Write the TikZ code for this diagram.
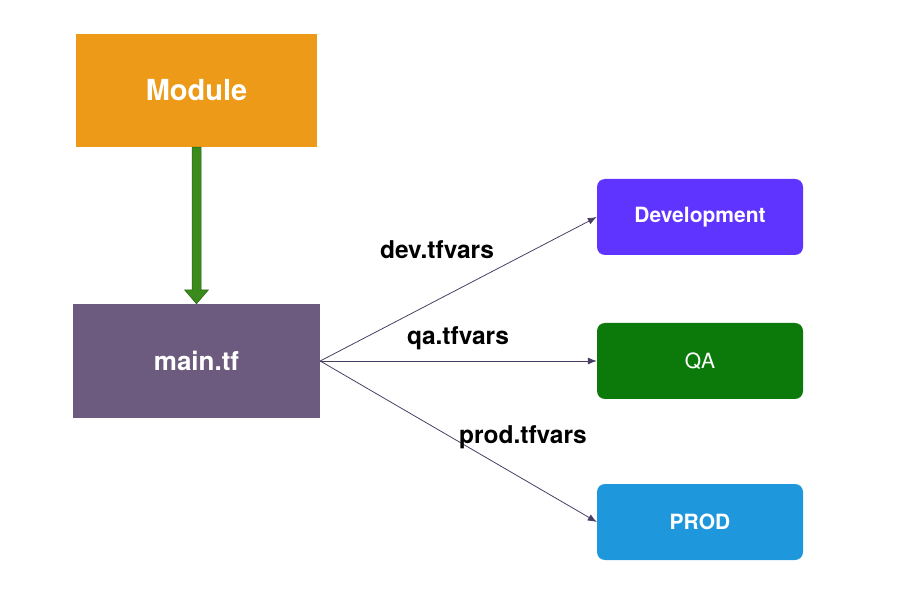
\documentclass[tikz,border=0pt]{standalone}
\usepackage{fontspec}
\setmainfont{TeX Gyre Heros}
\usetikzlibrary{arrows.meta,calc}
\definecolor{modorange}{HTML}{EC9A17}
\definecolor{mainpurple}{HTML}{6C5B7E}
\definecolor{devviolet}{HTML}{6034FF}
\definecolor{qagreen}{HTML}{0B7A0B}
\definecolor{prodblue}{HTML}{1E97DC}
\definecolor{arrowgreen}{HTML}{3A8A1C}
\definecolor{linecol}{HTML}{4A3F63}
\tikzset{
  sqbox/.style={draw=none, minimum width=#1, text=white},
  envbox/.style={rounded corners=8pt, minimum width=206pt, minimum height=76pt, text=white, font=\bfseries\fontsize{21}{24}\selectfont},
  conn/.style={draw=linecol, line width=0.8pt, -{Latex[length=9pt,width=7pt]}},
  lbl/.style={font=\bfseries\fontsize{24.5}{28}\selectfont, text=black}
}
\begin{document}
\begin{tikzpicture}[x=1pt,y=-1pt]
\useasboundingbox (0,0) rectangle (908,593);
\node[sqbox=241pt, minimum height=113pt, fill=modorange, font=\bfseries\fontsize{29}{32}\selectfont] (module) at (196.5,90.5) {Module};
\node[sqbox=247pt, minimum height=114pt, fill=mainpurple, font=\bfseries\fontsize{26}{30}\selectfont] (main) at (196.5,361) {main.tf};
\node[envbox, fill=devviolet] (dev) at (700,217) {Development};
\node[envbox, fill=qagreen, font=\fontsize{21}{24}\selectfont] (qa) at (700,361) {QA};
\node[envbox, fill=prodblue] (prod) at (700,522) {PROD};
% green arrow
\coordinate (atop) at (module.south);
\coordinate (atip) at (main.north);
\fill[arrowgreen, draw=arrowgreen!70!black, line width=0.5pt]
  ($(atop)+(-4.5,0)$) -- ($(atop)+(4.5,0)$) -- ($(atip)+(4.5,-14)$) -- ($(atip)+(12,-14)$) -- (atip)
  -- ($(atip)+(-12,-14)$) -- ($(atip)+(-4.5,-14)$) -- cycle;
\draw[conn] (main.east) -- (dev.west);
\draw[conn] (main.east) -- (qa.west);
\draw[conn] (main.east) -- (prod.west);
\node[lbl] (l1) at (437,250) {dev.tfvars};
\node[lbl] (l2) at (458,338) {qa.tfvars};
\node[lbl] (l3) at (523,437) {prod.tfvars};
\end{tikzpicture}
\end{document}
